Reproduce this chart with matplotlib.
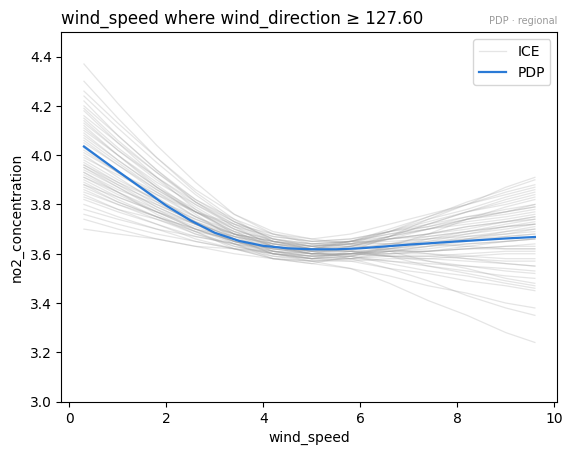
import numpy as np
import matplotlib
matplotlib.use("Agg")
import matplotlib.pyplot as plt

# x positions where the ICE curves were read
ice_x = [0.3, 1.0, 1.8, 2.6, 3.4, 4.2, 5.0, 5.8, 6.6, 7.4, 8.2, 9.0, 9.6]
ice_curves = [
    [4.37, 4.21, 4.04, 3.89, 3.76, 3.68, 3.64, 3.63, 3.62, 3.60, 3.58, 3.56, 3.55],
    [4.30, 4.15, 3.99, 3.85, 3.74, 3.65, 3.62, 3.64, 3.69, 3.74, 3.78, 3.83, 3.86],
    [4.26, 4.13, 3.99, 3.86, 3.76, 3.69, 3.66, 3.64, 3.61, 3.57, 3.54, 3.50, 3.48],
    [4.22, 4.08, 3.94, 3.81, 3.71, 3.63, 3.60, 3.62, 3.66, 3.70, 3.74, 3.77, 3.80],
    [4.20, 4.08, 3.94, 3.82, 3.73, 3.66, 3.63, 3.64, 3.66, 3.67, 3.69, 3.71, 3.72],
    [4.18, 4.05, 3.91, 3.78, 3.68, 3.61, 3.58, 3.61, 3.67, 3.74, 3.80, 3.87, 3.91],
    [4.16, 4.05, 3.93, 3.82, 3.74, 3.68, 3.65, 3.65, 3.64, 3.64, 3.63, 3.62, 3.62],
    [4.14, 4.02, 3.90, 3.79, 3.70, 3.64, 3.61, 3.63, 3.67, 3.72, 3.77, 3.81, 3.84],
    [4.12, 4.00, 3.87, 3.76, 3.66, 3.60, 3.57, 3.58, 3.61, 3.63, 3.66, 3.68, 3.70],
    [4.10, 4.00, 3.89, 3.80, 3.72, 3.66, 3.64, 3.65, 3.67, 3.70, 3.72, 3.74, 3.76],
    [4.09, 3.98, 3.87, 3.77, 3.68, 3.63, 3.60, 3.59, 3.56, 3.53, 3.51, 3.48, 3.46],
    [4.08, 3.98, 3.87, 3.78, 3.70, 3.64, 3.62, 3.65, 3.69, 3.75, 3.80, 3.85, 3.88],
    [4.06, 3.96, 3.85, 3.75, 3.67, 3.61, 3.59, 3.60, 3.61, 3.62, 3.64, 3.65, 3.66],
    [4.05, 3.96, 3.86, 3.77, 3.70, 3.65, 3.63, 3.64, 3.66, 3.68, 3.70, 3.73, 3.74],
    [4.04, 3.93, 3.82, 3.72, 3.64, 3.58, 3.56, 3.59, 3.63, 3.68, 3.74, 3.79, 3.82],
    [4.02, 3.93, 3.84, 3.75, 3.68, 3.63, 3.61, 3.61, 3.60, 3.60, 3.59, 3.58, 3.58],
    [4.01, 3.93, 3.85, 3.77, 3.71, 3.67, 3.65, 3.66, 3.69, 3.71, 3.74, 3.76, 3.78],
    [4.00, 3.91, 3.81, 3.72, 3.65, 3.60, 3.58, 3.59, 3.62, 3.64, 3.67, 3.69, 3.71],
    [3.98, 3.90, 3.82, 3.74, 3.68, 3.64, 3.62, 3.61, 3.59, 3.57, 3.55, 3.53, 3.52],
    [3.97, 3.89, 3.80, 3.73, 3.66, 3.62, 3.60, 3.63, 3.67, 3.72, 3.77, 3.82, 3.85],
    [3.96, 3.89, 3.82, 3.75, 3.69, 3.66, 3.64, 3.65, 3.65, 3.66, 3.67, 3.68, 3.69],
    [3.95, 3.87, 3.78, 3.70, 3.64, 3.59, 3.57, 3.57, 3.58, 3.58, 3.59, 3.60, 3.60],
    [3.94, 3.87, 3.79, 3.72, 3.67, 3.63, 3.61, 3.62, 3.64, 3.67, 3.69, 3.71, 3.73],
    [3.93, 3.86, 3.80, 3.73, 3.68, 3.65, 3.63, 3.65, 3.68, 3.71, 3.75, 3.78, 3.80],
    [3.92, 3.85, 3.77, 3.70, 3.65, 3.61, 3.59, 3.60, 3.60, 3.61, 3.62, 3.63, 3.64],
    [3.91, 3.85, 3.78, 3.72, 3.67, 3.64, 3.62, 3.63, 3.66, 3.68, 3.71, 3.73, 3.75],
    [3.90, 3.83, 3.77, 3.70, 3.65, 3.62, 3.60, 3.59, 3.57, 3.55, 3.53, 3.51, 3.50],
    [3.89, 3.82, 3.75, 3.69, 3.63, 3.60, 3.58, 3.59, 3.61, 3.63, 3.65, 3.67, 3.68],
    [3.88, 3.83, 3.77, 3.72, 3.68, 3.65, 3.64, 3.65, 3.68, 3.70, 3.73, 3.75, 3.77],
    [3.87, 3.81, 3.75, 3.70, 3.65, 3.62, 3.61, 3.61, 3.61, 3.61, 3.62, 3.62, 3.62],
    [3.86, 3.80, 3.74, 3.68, 3.64, 3.60, 3.59, 3.60, 3.63, 3.65, 3.68, 3.70, 3.72],
    [3.85, 3.80, 3.75, 3.70, 3.67, 3.64, 3.63, 3.61, 3.59, 3.55, 3.52, 3.49, 3.47],
    [3.84, 3.78, 3.72, 3.66, 3.62, 3.58, 3.57, 3.58, 3.60, 3.61, 3.63, 3.65, 3.66],
    [3.83, 3.78, 3.74, 3.69, 3.66, 3.63, 3.62, 3.64, 3.67, 3.70, 3.74, 3.77, 3.79],
    [3.82, 3.77, 3.72, 3.67, 3.64, 3.61, 3.60, 3.60, 3.59, 3.59, 3.58, 3.57, 3.57],
    [3.80, 3.75, 3.70, 3.65, 3.62, 3.59, 3.58, 3.60, 3.62, 3.66, 3.69, 3.72, 3.74],
    [3.78, 3.74, 3.70, 3.67, 3.64, 3.62, 3.61, 3.58, 3.54, 3.49, 3.43, 3.38, 3.35],
    [3.76, 3.72, 3.68, 3.65, 3.62, 3.60, 3.59, 3.60, 3.62, 3.64, 3.66, 3.69, 3.70],
    [3.74, 3.70, 3.66, 3.63, 3.60, 3.58, 3.57, 3.54, 3.48, 3.41, 3.35, 3.28, 3.24],
    [3.70, 3.68, 3.66, 3.63, 3.62, 3.61, 3.60, 3.60, 3.59, 3.58, 3.57, 3.56, 3.55],
    [4.24, 4.11, 3.97, 3.84, 3.73, 3.66, 3.63, 3.64, 3.64, 3.65, 3.66, 3.67, 3.68],
    [4.11, 4.00, 3.88, 3.77, 3.69, 3.63, 3.60, 3.60, 3.61, 3.61, 3.62, 3.63, 3.63],
    [3.99, 3.92, 3.84, 3.77, 3.72, 3.68, 3.66, 3.68, 3.72, 3.76, 3.80, 3.84, 3.87],
    [4.03, 3.93, 3.83, 3.73, 3.66, 3.60, 3.58, 3.57, 3.54, 3.52, 3.49, 3.47, 3.45],
    [3.93, 3.85, 3.76, 3.69, 3.62, 3.58, 3.56, 3.54, 3.51, 3.47, 3.44, 3.40, 3.38],
    [4.15, 4.03, 3.91, 3.80, 3.71, 3.65, 3.62, 3.65, 3.70, 3.75, 3.81, 3.86, 3.90],
    [3.95, 3.88, 3.81, 3.74, 3.68, 3.65, 3.63, 3.65, 3.69, 3.73, 3.77, 3.80, 3.83],
    [4.07, 3.97, 3.86, 3.77, 3.69, 3.63, 3.61, 3.62, 3.64, 3.66, 3.68, 3.71, 3.72],
    [3.88, 3.81, 3.75, 3.68, 3.63, 3.60, 3.58, 3.58, 3.59, 3.59, 3.60, 3.61, 3.61],
    [4.13, 4.02, 3.91, 3.81, 3.73, 3.67, 3.65, 3.66, 3.69, 3.72, 3.75, 3.77, 3.79],
    [3.96, 3.88, 3.79, 3.72, 3.65, 3.61, 3.59, 3.58, 3.57, 3.56, 3.55, 3.54, 3.53],
    [4.19, 4.06, 3.93, 3.81, 3.72, 3.65, 3.62, 3.63, 3.66, 3.68, 3.71, 3.73, 3.75],
    [3.91, 3.84, 3.77, 3.71, 3.65, 3.62, 3.60, 3.61, 3.62, 3.63, 3.64, 3.65, 3.66],
]

pdp_x = [0.3, 1.0, 1.5, 2.0, 2.5, 3.0, 3.5, 4.0, 4.5, 5.0, 5.5, 6.0, 7.0, 8.0, 9.0, 9.6]
pdp_y = [4.035, 3.935, 3.865, 3.795, 3.735, 3.685, 3.652, 3.632, 3.622, 3.618,
         3.618, 3.622, 3.637, 3.65, 3.662, 3.668]

title_text = "wind_speed where wind_direction \u2265 127.60"
subtitle_text = "PDP \u00b7 regional"
x_label = "wind_speed"
y_label = "no2_concentration"

fig, ax = plt.subplots(figsize=(6.4, 4.8), dpi=100)
for i, cy in enumerate(ice_curves):
    ax.plot(ice_x, cy, color="#999999", lw=0.9, alpha=0.25,
            solid_joinstyle="round", label="ICE" if i == 0 else None)
ax.plot(pdp_x, pdp_y, color="#2a7ad6", lw=1.6, solid_joinstyle="round", label="PDP")

ax.set_ylim(3.0, 4.5)
ax.set_xlabel(x_label)
ax.set_ylabel(y_label)
ax.set_title(title_text, loc="left", fontsize=12)
ax.set_title(subtitle_text, loc="right", fontsize=7, color="#999999")
ax.legend(loc="upper right")

fig.savefig("out.png", dpi=100, bbox_inches="tight")
